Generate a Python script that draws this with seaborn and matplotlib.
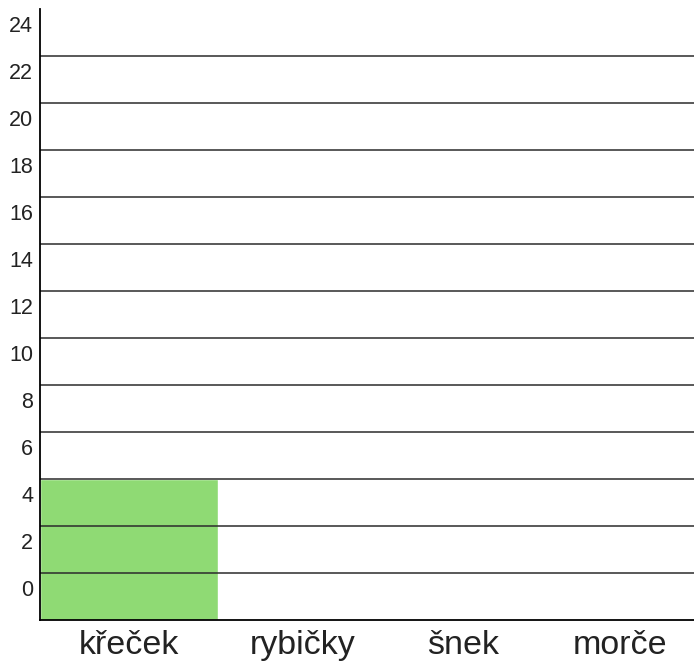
import matplotlib
matplotlib.use("Agg")
import matplotlib.pyplot as plt
import matplotlib.transforms as mtransforms
import seaborn as sns
import pandas as pd

categories = ["křeček", "rybičky", "šnek", "morče"]
counts = [6, 0, 0, 0]
tick_values = list(range(2, 27, 2))
tick_labels = [str(v) for v in range(0, 25, 2)]
grid_values = list(range(2, 25, 2))

sns.set_theme(style="white")
plt.rcParams['font.family'] = ['Liberation Sans', 'DejaVu Sans']

df = pd.DataFrame({"zvire": categories, "pocet": counts})

fig = plt.figure(figsize=(6.94, 6.62), dpi=100)
ax = fig.add_axes([40/694, 42/662, 1 - 40/694, (620-9)/662])

for g in grid_values:
    ax.axhline(g, color="#2b2b2b", lw=1.1, zorder=3)

sns.barplot(data=df, x="zvire", y="pocet", color="#8fda74", saturation=1,
            width=1.09, ax=ax, zorder=2)

ax.set_xlim(-0.545, 3.45)
ax.set_ylim(0, 26)
ax.set_yticks(tick_values, labels=tick_labels)
ax.tick_params(axis="y", length=0, pad=5, labelsize=15.5, labelcolor="#222222")
ax.tick_params(axis="x", length=0, pad=7, labelsize=24.5, labelcolor="#222222")
offset = mtransforms.ScaledTranslation(0, -5/72, fig.dpi_scale_trans)
for lab in ax.get_yticklabels():
    lab.set_verticalalignment("top")
    lab.set_transform(lab.get_transform() + offset)
x_shifts_px = [0, 10, 6, 0]
for lab, dx in zip(ax.get_xticklabels(), x_shifts_px):
    lab.set_transform(lab.get_transform() +
                      mtransforms.ScaledTranslation(dx / 100, 0, fig.dpi_scale_trans))
ax.set_xlabel("")
ax.set_ylabel("")
for s in ["top", "right"]:
    ax.spines[s].set_visible(False)
for s in ["left", "bottom"]:
    ax.spines[s].set_color("black")
    ax.spines[s].set_linewidth(1.3)
    ax.spines[s].set_zorder(4)

fig.savefig("out.png", dpi=100)
